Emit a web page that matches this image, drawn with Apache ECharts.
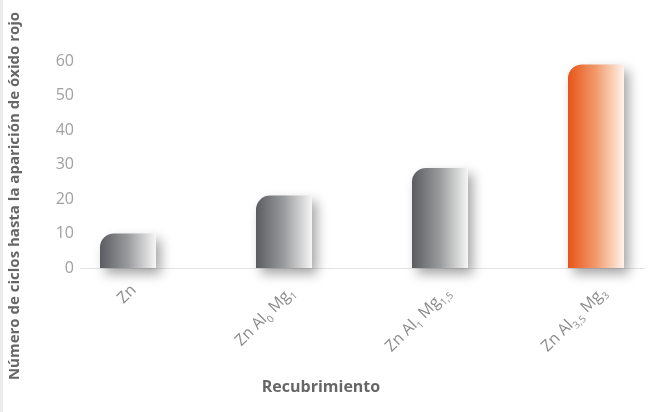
<!DOCTYPE html>
<html lang="es">
<head>
  <meta charset="UTF-8">
  <title>Recubrimiento</title>
  <script src="https://cdn.jsdelivr.net/npm/echarts@6/dist/echarts.min.js"></script>
  <style>
    html, body { margin: 0; padding: 0; background: #fff; }
  </style>
</head>
<body>
  <div id="chart" style="width: 650px;height: 412px;"></div>
<script>
  var categories = ['Zn', 'Zn Al{s|0} Mg{s|1}', 'Zn Al{s|1} Mg{s|1,5}', 'Zn Al{s|3,5} Mg{s|3}']
  var ciclos = [10, 21, 29, 59]
  var yTitle = 'Número de ciclos hasta la aparición de óxido rojo'
  var xTitle = 'Recubrimiento'
  var font = '"Open Sans", sans-serif'

  var grayFill = new echarts.graphic.LinearGradient(0, 0, 1, 0, [
    { offset: 0, color: '#5b5c5f' },
    { offset: 0.5, color: '#9a9b9d' },
    { offset: 1, color: '#f6f6f6' }
  ])
  var orangeFill = new echarts.graphic.LinearGradient(0, 0, 1, 0, [
    { offset: 0, color: '#e85418' },
    { offset: 0.5, color: '#f29a6c' },
    { offset: 1, color: '#fff3ea' }
  ])

  var chart = echarts.init(document.getElementById('chart'))
  var option = {
    animation: false,
    backgroundColor: '#fff',
    grid: { left: 128, right: 54, top: 61, bottom: 144 },
    xAxis: {
      type: 'category',
      data: categories,
      boundaryGap: false,
      axisLine: { show: false },
      axisTick: { show: false },
      axisLabel: {
        rotate: 45,
        margin: 14,
        verticalAlign: 'top',
        color: '#8c8c8c',
        fontFamily: font,
        fontSize: 16,
        rich: {
          s: { fontSize: 10, color: '#8c8c8c', fontFamily: font, verticalAlign: 'bottom', padding: [12, 0, 0, 0] }
        }
      }
    },
    yAxis: {
      type: 'value',
      min: 0,
      max: 60,
      interval: 10,
      offset: 46,
      axisLine: { show: false },
      axisTick: { show: false },
      splitLine: { show: false },
      axisLabel: { color: '#a0a0a0', fontFamily: font, fontSize: 16, margin: 8 }
    },
    series: [{
      type: 'bar',
      clip: false,
      barWidth: 56,
      data: ciclos.map(function (v, i) {
        return {
          value: v,
          itemStyle: { color: i === ciclos.length - 1 ? orangeFill : grayFill }
        }
      }),
      itemStyle: {
        borderRadius: [14, 0, 0, 0],
        shadowColor: 'rgba(0,0,0,0.35)',
        shadowBlur: 12,
        shadowOffsetX: 5,
        shadowOffsetY: 6
      }
    }]
  }
  chart.setOption(option)

  // base line spans wider than the bar centres
  var zero = chart.convertToPixel({ gridIndex: 0 }, [0, 0])
  chart.setOption({
    graphic: [
      { type: 'rect', shape: { x: 0, y: 0, width: 3, height: 412 }, style: { fill: '#ececec' } },
      {
        type: 'line',
        shape: { x1: 80, y1: zero[1] + 0.5, x2: 645, y2: zero[1] + 0.5 },
        style: { stroke: '#e4e4e4', lineWidth: 1 },
        z: -1
      },
      {
        type: 'text',
        x: 15, y: 196,
        rotation: Math.PI / 2,
        style: { text: yTitle, font: 'bold 15px "Open Sans", sans-serif', fill: '#666', align: 'center', verticalAlign: 'middle' }
      },
      {
        type: 'text',
        x: 321, y: 387,
        style: { text: xTitle, font: 'bold 16px "Open Sans", sans-serif', fill: '#666', align: 'center', verticalAlign: 'middle' }
      }
    ]
  })
</script>
</body>
</html>
